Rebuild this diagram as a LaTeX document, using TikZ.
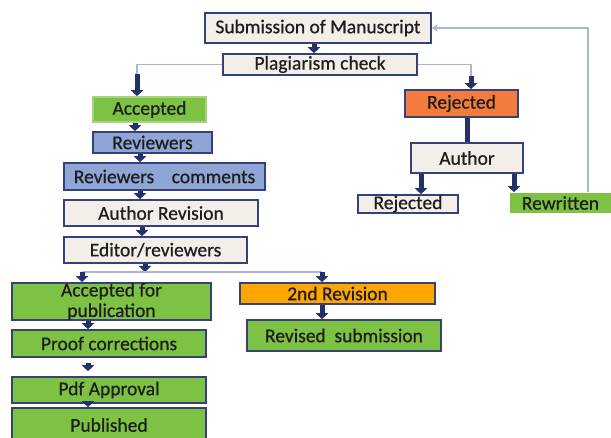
\documentclass[tikz,border=0pt]{standalone}
\usepackage{fontspec}
\setmainfont{Carlito}[FakeBold=0.7]
\usetikzlibrary{arrows.meta}
\definecolor{navy}{HTML}{24306A}
\definecolor{edge}{HTML}{34417A}
\definecolor{paper}{HTML}{F3EEE8}
\definecolor{leaf}{HTML}{7DC242}
\definecolor{leafline}{HTML}{A6D47E}
\definecolor{sky}{HTML}{8EA5D6}
\definecolor{coral}{HTML}{F47B3E}
\definecolor{amber}{HTML}{FFA600}
\definecolor{wire}{HTML}{A9B7D2}
\definecolor{ink}{HTML}{1E1E1E}
\tikzset{
  box/.style={draw=edge, line width=1.6pt, inner sep=0pt, align=center,
    text=ink, font=\fontsize{19.5}{21}\selectfont},
  paperbox/.style={box, fill=paper},
  leafbox/.style={box, fill=leaf},
  skybox/.style={box, fill=sky},
  flow/.style={draw=navy, line width=5pt, -{Triangle[width=12pt,length=6pt]}},
  bar/.style={draw=navy, line width=5pt},
  wireline/.style={draw=wire, line width=1.6pt},
}
\begin{document}
\begin{tikzpicture}[x=1pt,y=-1pt]
\useasboundingbox (0,0) rectangle (611,438);
\begin{scope}
\clip (0,0) rectangle (611,438);

% main trunk
\node[paperbox, minimum width=226pt, minimum height=30pt] (sub) at (318,28) {Submission of Manuscript};
\node[paperbox, minimum width=194pt, minimum height=21pt] (plag) at (320,64.5) {Plagiarism check};

% accepted branch
\node[leafbox, draw=leafline, minimum width=113pt, minimum height=25pt] (acc) at (149.5,109.5) {Accepted};
\node[skybox, minimum width=119pt, minimum height=21pt] (rev) at (152.5,142.5) {Reviewers};
\node[skybox, minimum width=201pt, minimum height=27pt] (revc) at (164.5,176.5) {Reviewers\hspace{0.9em}comments};
\node[paperbox, minimum width=194pt, minimum height=26pt] (arev) at (161,213) {Author Revision};
\node[paperbox, minimum width=183pt, minimum height=26pt] (edit) at (155.5,250) {Editor/reviewers};

\node[leafbox, minimum width=199pt, minimum height=37pt] (afp) at (111.5,301.5) {Accepted for\\[-0.5pt]publication};
\node[leafbox, minimum width=194pt, minimum height=27pt] (proof) at (109,343.5) {Proof corrections};
\node[leafbox, minimum width=194pt, minimum height=26pt] (pdf) at (109,390) {Pdf Approval};
\node[leafbox, minimum width=194pt, minimum height=34pt] (pub) at (109,425) {Published};

\node[box, fill=amber, minimum width=195pt, minimum height=21pt] (sec) at (337.5,293.5) {2nd Revision};
\node[leafbox, minimum width=194pt, minimum height=31pt] (rsub) at (344,335.5) {Revised\hspace{0.45em}submission};

% rejected branch
\node[box, fill=coral, minimum width=113pt, minimum height=27pt] (rej) at (461.5,103.5) {Rejected};
\node[paperbox, minimum width=112pt, minimum height=30pt] (auth) at (467,158) {Author};
\node[paperbox, minimum width=100pt, minimum height=18pt] (rej2) at (408,204) {Rejected};
\node[leafbox, draw=none, minimum width=101pt, minimum height=20pt] (rew) at (560.5,203) {Rewritten};

% turning points of the thin connectors
\coordinate (lt) at (137,74);
\coordinate (rt) at (471,76);
\coordinate (br) at (145,272);
\coordinate (bl) at (82,272);
\coordinate (bd) at (322,272);
\coordinate (up) at (588,28);

% connectors
\draw[flow] (sub.south -| 314,0) -- (plag.north -| 314,0);

\draw[wireline] (plag.west) -| (lt);
\draw[flow] (lt) -- (lt |- acc.north);
\draw[wireline] (plag.east) -| (rt);
\draw[flow] (rt) -- (rt |- rej.north);

\draw[bar] (rej.south -| 467,0) -- (auth.north -| 467,0);
\draw[flow] (auth.south -| 421,0) -- (rej2.north -| 421,0);
\draw[flow] (auth.south -| 514,0) -- (rew.north -| 514,0);
\draw[wireline, -{Stealth[width=8pt,length=6pt]}] (rew.north -| up) -- (up) -- (sub.east);

\draw[flow] (acc.south -| 135,0) -- (rev.north -| 135,0);
\draw[flow] (rev.south -| 140,0) -- (revc.north -| 140,0);
\draw[flow] (revc.south -| 140,0) -- (arev.north -| 140,0);
\draw[flow] (arev.south -| 142,0) -- (edit.north -| 142,0);
\draw[flow] (edit.south -| br) -- (br);
\draw[wireline] (bl) -- (bd);
\draw[flow] (bl) -- (bl |- afp.north);
\draw[flow] (bd) -- (bd |- sec.north);
\draw[flow] (sec.south -| 322,0) -- (rsub.north -| 322,0);

\draw[flow] (afp.south -| 88,0) -- (proof.north -| 88,0);
\draw[flow, shorten <=5pt, shorten >=5pt] (proof.south -| 88,0) -- (pdf.north -| 88,0);
\draw[flow] (pdf.south -| 88,0) -- (pub.north -| 88,0);
\end{scope}
\end{tikzpicture}
\end{document}
